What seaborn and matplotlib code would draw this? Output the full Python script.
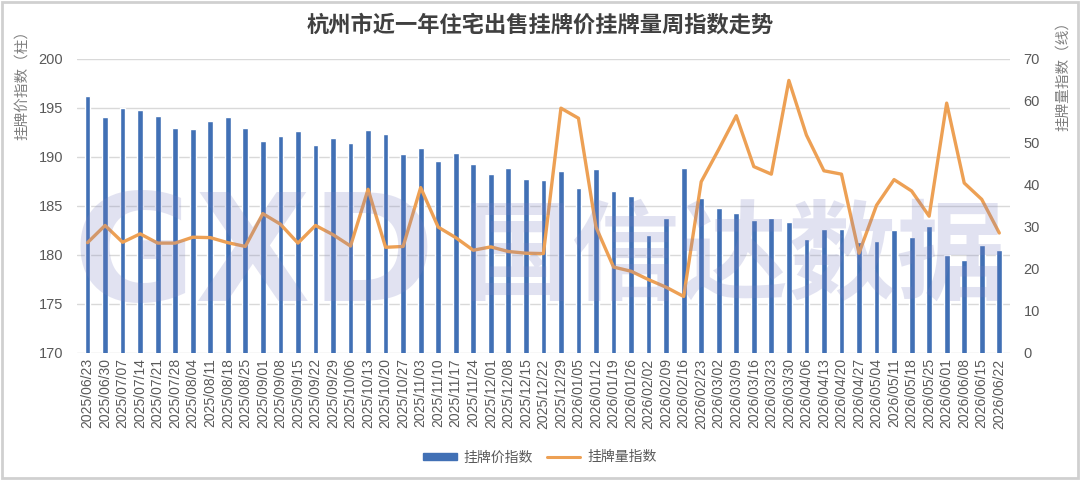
import matplotlib
matplotlib.use("Agg")
import matplotlib.pyplot as plt
import seaborn as sns
import pandas as pd
from matplotlib.patches import Rectangle
from matplotlib.lines import Line2D

# 周日期
weeks = ["2025/06/23", "2025/06/30", "2025/07/07", "2025/07/14", "2025/07/21", "2025/07/28",
         "2025/08/04", "2025/08/11", "2025/08/18", "2025/08/25", "2025/09/01", "2025/09/08",
         "2025/09/15", "2025/09/22", "2025/09/29", "2025/10/06", "2025/10/13", "2025/10/20",
         "2025/10/27", "2025/11/03", "2025/11/10", "2025/11/17", "2025/11/24", "2025/12/01",
         "2025/12/08", "2025/12/15", "2025/12/22", "2025/12/29", "2026/01/05", "2026/01/12",
         "2026/01/19", "2026/01/26", "2026/02/02", "2026/02/09", "2026/02/16", "2026/02/23",
         "2026/03/02", "2026/03/09", "2026/03/16", "2026/03/23", "2026/03/30", "2026/04/06",
         "2026/04/13", "2026/04/20", "2026/04/27", "2026/05/04", "2026/05/11", "2026/05/18",
         "2026/05/25", "2026/06/01", "2026/06/08", "2026/06/15", "2026/06/22"]

# 挂牌价指数 (柱, 左轴)
price_idx = [196.2, 194.0, 195.0, 194.8, 194.15, 192.9, 192.8, 193.6, 194.0, 192.9,
             191.6, 192.1, 192.6, 191.2, 191.9, 191.4, 192.7, 192.3,
             190.3, 190.85, 189.6, 190.4, 189.3, 188.2, 188.8, 187.7, 187.6, 188.5,
             186.8, 188.7, 186.5, 186.0, 182.0, 183.7, 188.8,
             185.8, 184.8, 184.3, 183.5, 183.7, 183.3, 181.6, 182.6, 182.6, 181.3,
             181.4, 182.5, 181.8, 182.9, 180.0, 179.5, 181.0, 180.5]

# 挂牌量指数 (线, 右轴)
volume_idx = [26.2, 30.3, 26.3, 28.3, 26.1, 26.1, 27.5, 27.4, 26.2, 25.3,
              33.1, 30.6, 26.1, 30.3, 28.1, 25.4, 38.9, 25.1,
              25.3, 39.3, 29.9, 27.4, 24.4, 25.2, 24.1, 23.7, 23.6, 58.2,
              55.8, 29.9, 20.4, 19.4, 17.4, 15.6, 13.4,
              40.7, 48.4, 56.4, 44.3, 42.5, 64.8, 51.8, 43.3, 42.5, 23.7,
              35.1, 41.2, 38.5, 32.5, 59.4, 40.4, 36.5, 28.5]

df = pd.DataFrame({"week": weeks, "price": price_idx, "volume": volume_idx})
df["pos"] = range(len(df))

bar_color = "#4170b5"
line_color = "#eda054"
txt_gray = "#595959"

sns.set_theme(style="white")
plt.rcParams["font.family"] = ["Noto Sans CJK SC", "DejaVu Sans"]

fig = plt.figure(figsize=(10.8, 4.8), dpi=100)
ax = fig.add_axes([0.0713, 0.265, 0.8637, 0.613])

sns.barplot(data=df, x="week", y="price", color=bar_color, width=0.33,
            saturation=1, ax=ax, zorder=2)
ax.set_ylim(170, 200)
ax.set_yticks(range(170, 201, 5))
ax.yaxis.grid(True, color="#d9d9d9", linewidth=1)
ax.set_axisbelow(True)
ax.set_xlabel("")
ax.set_ylabel("")
ax.set_xlim(-0.6, len(df) - 0.4)
ax.tick_params(axis="x", rotation=90, labelsize=10, colors=txt_gray, length=0, pad=4)
ax.tick_params(axis="y", labelsize=10.5, colors=txt_gray, length=0, pad=10)
for lab in ax.get_xticklabels() + ax.get_yticklabels():
    lab.set_family(["Liberation Sans", "DejaVu Sans"])

ax2 = ax.twinx()
sns.lineplot(data=df, x="pos", y="volume", color=line_color, linewidth=2.4, ax=ax2, zorder=3)
ax2.set_ylim(0, 70)
ax2.set_yticks(range(0, 71, 10))
ax2.set_xlim(-0.6, len(df) - 0.4)
ax2.set_ylabel("")
ax2.set_xlabel("")
ax2.tick_params(axis="y", labelsize=10.5, colors=txt_gray, length=0, pad=10)
for lab in ax2.get_yticklabels():
    lab.set_family(["Liberation Sans", "DejaVu Sans"])

for a in (ax, ax2):
    for s in a.spines.values():
        s.set_visible(False)

# 水印
fig.text(0.235, 0.46, "GXD", fontsize=108, fontweight="bold", color="#7a7fc0",
         alpha=0.22, ha="center", va="center", family=["DejaVu Sans"], zorder=5)
fig.text(0.68, 0.46, "国信达数据", fontsize=78, fontweight="bold", color="#7a7fc0",
         alpha=0.22, ha="center", va="center", zorder=5)

fig.text(0.5, 0.948, "杭州市近一年住宅出售挂牌价挂牌量周指数走势", fontsize=16,
         fontweight="bold", color="#404040", ha="center", va="center")
fig.text(0.02, 0.952, "挂牌价指数（柱）", fontsize=10.5, color="#7f7f7f",
         rotation=90, ha="center", va="top")
fig.text(0.984, 0.97, "挂牌量指数（线）", fontsize=10.5, color="#7f7f7f",
         rotation=90, ha="center", va="top")

handles = [Rectangle((0, 0), 1, 1, color=bar_color),
           Line2D([0], [0], color=line_color, linewidth=2.2)]
fig.legend(handles, ["挂牌价指数", "挂牌量指数"], loc="center", bbox_to_anchor=(0.5, 0.047),
           ncol=2, frameon=False, fontsize=10, labelcolor=txt_gray,
           handlelength=2.4, handleheight=0.5, columnspacing=1.0, handletextpad=0.5)

fig.patches.append(Rectangle((0.002, 0.004), 0.996, 0.992, transform=fig.transFigure,
                             fill=False, edgecolor="#d0d0d0", linewidth=2))

fig.savefig("out.png", dpi=100)
